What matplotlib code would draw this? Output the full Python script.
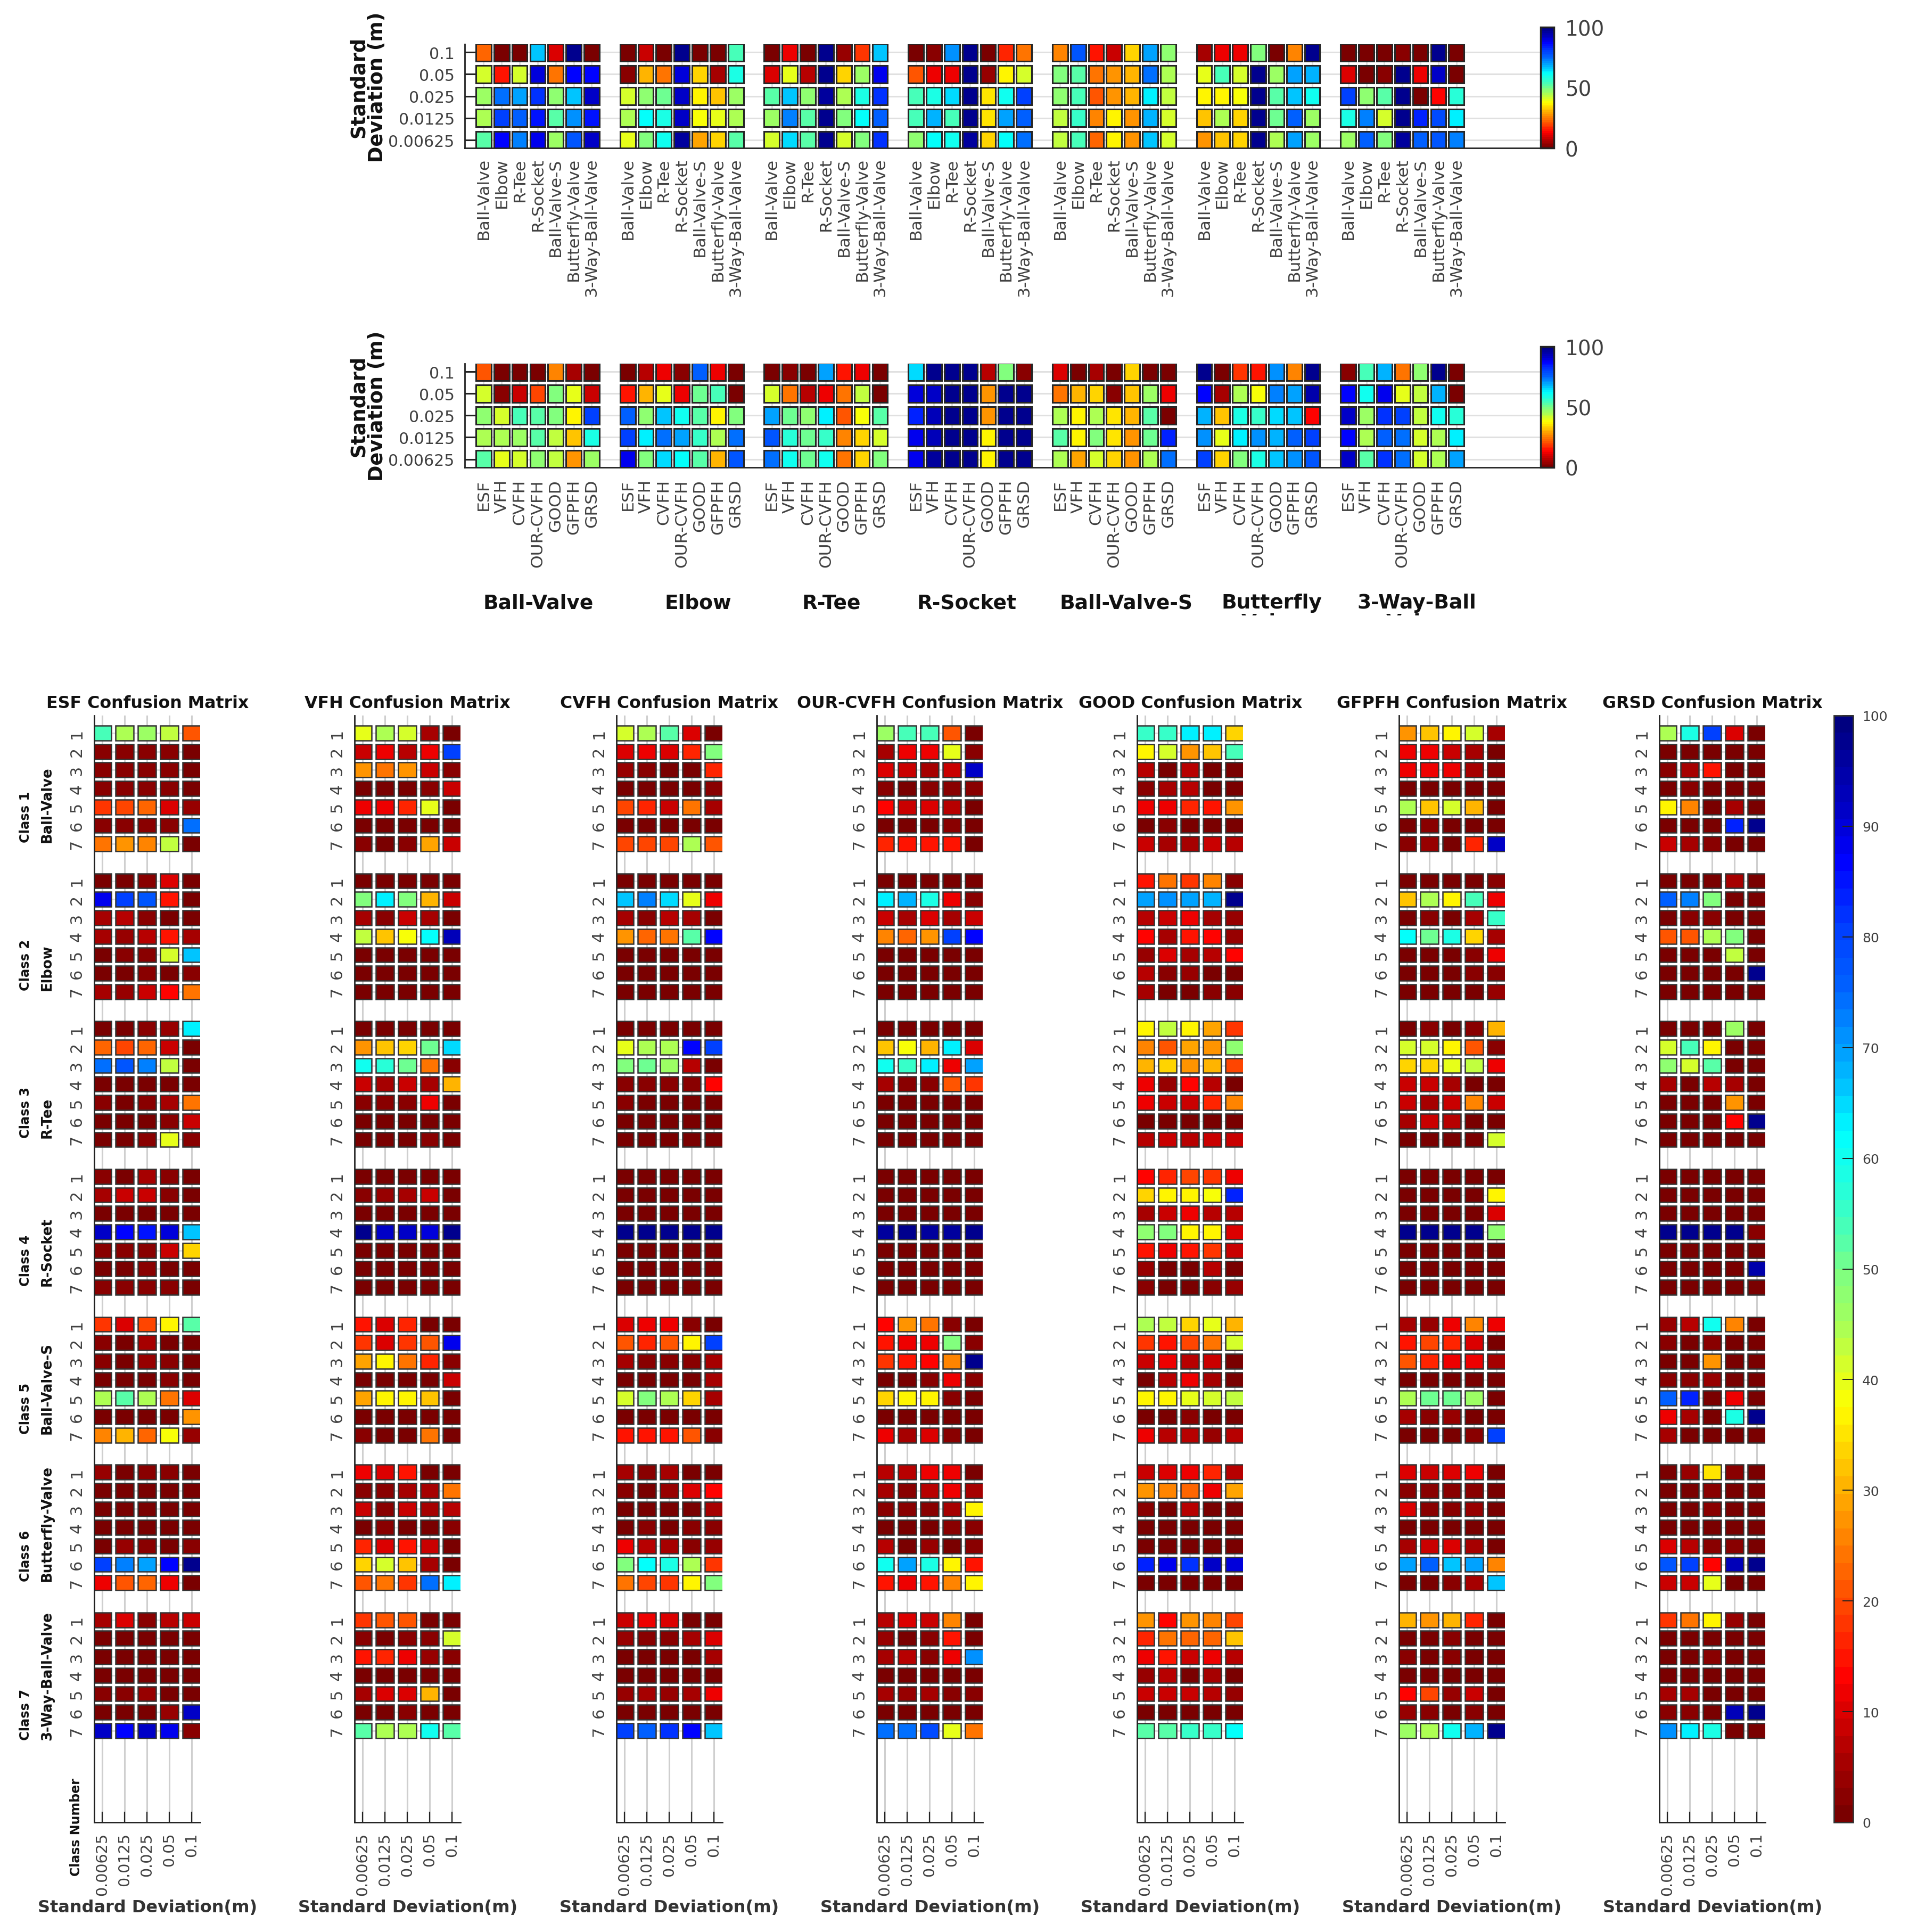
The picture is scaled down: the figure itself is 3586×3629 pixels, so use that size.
import numpy as np
import matplotlib
matplotlib.use("Agg")
import matplotlib.pyplot as plt
from matplotlib.cm import ScalarMappable
from matplotlib.colors import Normalize, LinearSegmentedColormap
from matplotlib.transforms import Bbox

W, H = 3586, 3630

std_top = ["0.1", "0.05", "0.025", "0.0125", "0.00625"]
std_bottom = ["0.00625", "0.0125", "0.025", "0.05", "0.1"]
class_names = ["Ball-Valve", "Elbow", "R-Tee", "R-Socket", "Ball-Valve-S", "Butterfly-Valve", "3-Way-Ball-Valve"]
descriptors = ["ESF", "VFH", "CVFH", "OUR-CVFH", "GOOD", "GFPFH", "GRSD"]
group_titles = ["Ball-Valve", "Elbow", "R-Tee", "R-Socket", "Ball-Valve-S", "Butterfly", "3-Way-Ball"]

# top panel, rows are std 0.1 -> 0.00625, 7 values per group
by_class = [
    # Ball-Valve
    [22,1,1,66,10,97,1, 42,15,41,90,24,86,87, 46,74,70,82,47,67,92, 44,80,76,85,53,71,85, 53,87,73,88,46,78,91],
    # Elbow
    [1,8,1,97,1,1,54, 3,31,24,90,33,5,58, 41,48,51,92,36,32,46, 45,62,58,92,38,40,45, 40,49,60,96,29,34,52],
    # R-Tee
    [1,12,1,97,4,18,67, 10,40,7,97,34,46,88, 53,66,48,96,44,58,82, 46,73,52,97,49,62,76, 41,65,52,97,42,49,82],
    # R-Socket
    [1,2,71,97,1,16,24, 21,12,12,97,4,37,41, 54,59,65,97,35,60,80, 54,68,54,97,35,70,76, 47,62,60,96,34,62,74],
    # Ball-Valve-S
    [25,77,15,8,34,70,47, 49,53,24,27,31,74,44, 48,54,21,28,30,64,43, 43,55,25,37,27,68,41, 43,54,23,37,27,66,41],
    # Butterfly
    [5,12,12,49,1,25,98, 40,54,42,98,46,70,68, 37,37,39,97,52,67,60, 32,44,34,97,51,75,46, 28,32,34,97,44,70,46],
    # 3-Way
    [1,1,1,2,1,97,1, 10,1,2,97,12,92,1, 80,48,52,97,1,14,57, 59,73,41,97,83,79,63, 46,76,49,96,75,77,72],
]

# second panel, same layout but columns are the descriptors
by_descriptor = [
    [21,1,1,1,25,5,1, 42,3,8,20,49,40,8, 47,42,54,53,49,37,80, 45,45,46,53,43,32,58, 52,40,42,48,43,27,46],
    [1,7,12,2,76,12,1, 15,31,40,12,51,54,1, 76,48,66,60,53,37,49, 81,63,74,69,55,44,74, 88,49,65,62,53,31,78],
    [1,2,1,70,15,12,1, 41,24,7,12,24,43,1, 70,50,47,64,21,39,53, 77,57,51,56,25,34,41, 74,60,51,60,24,34,49],
    [65,97,97,97,7,49,2, 90,92,97,97,28,97,97, 83,93,97,97,28,97,97, 88,93,97,97,37,97,97, 88,96,97,97,37,97,97],
    [10,1,5,1,34,1,1, 24,31,34,3,32,46,12, 45,36,44,35,30,52,1, 53,37,49,35,28,51,83, 45,29,41,33,28,44,74],
    [97,1,18,15,71,25,97, 87,5,45,38,73,70,94, 68,32,58,56,65,66,13, 71,40,63,71,68,76,80, 80,34,49,59,66,71,77],
    [3,54,68,24,47,97,1, 87,60,88,40,43,68,1, 92,46,82,80,43,60,57, 86,45,76,74,41,45,63, 92,53,82,74,41,45,70],
]

# confusion matrices, one row per predicted class, 7 rows per true class
esf = [
    [54,45,46,43,21],[3,3,2,2,1],[2,3,2,2,1],[2,2,2,2,1],[18,20,22,10,4],[2,2,2,3,74],[24,28,26,43,1],
    [1,1,2,10,1],[88,81,77,15,1],[5,7,3,1,1],[5,4,7,15,5],[1,3,3,41,67],[1,1,2,1,2],[5,4,8,13,24],
    [1,1,2,4,63],[22,19,22,8,1],[74,78,72,43,1],[1,1,1,1,1],[3,1,3,5,24],[1,1,1,2,8],[1,1,3,40,3],
    [3,1,5,3,1],[5,8,8,2,1],[1,1,1,1,1],[91,87,85,90,67],[2,3,2,8,33],[1,1,3,1,1],[3,3,2,2,1],
    [18,10,20,36,53],[3,1,5,1,1],[3,1,4,3,1],[1,1,1,2,1],[45,53,45,24,10],[1,1,1,1,28],[25,31,23,38,4],
    [4,1,3,2,1],[1,1,1,1,1],[1,1,1,1,1],[1,1,1,1,1],[1,4,3,1,3],[80,73,70,86,98],[11,21,23,11,1],
    [6,10,3,7,8],[1,1,1,1,1],[1,1,1,1,1],[1,1,1,1,1],[2,2,4,1,1],[1,1,1,4,91],[92,87,92,88,2],
]
vfh = [
    [40,45,42,5,1],[9,12,7,12,80],[28,24,28,8,3],[1,1,1,2,8],[12,12,16,40,1],[1,1,1,1,1],[3,1,3,29,8],
    [1,1,1,1,1],[49,63,49,31,8],[5,3,8,5,1],[43,32,38,62,93],[1,1,1,1,1],[1,1,1,1,1],[1,1,1,1,1],
    [1,1,1,1,1],[27,32,34,50,65],[60,57,50,24,2],[8,6,8,5,30],[2,2,2,12,1],[1,1,1,1,1],[1,1,1,2,1],
    [1,1,1,1,1],[2,4,5,8,1],[1,1,1,1,1],[97,92,92,90,98],[1,1,1,1,1],[1,1,1,1,1],[1,1,1,1,1],
    [15,10,17,1,1],[18,10,18,21,88],[29,36,24,16,2],[1,1,1,1,8],[29,37,36,32,1],[1,1,1,1,1],[3,1,1,24,1],
    [12,10,15,1,1],[2,2,5,5,24],[8,2,8,5,7],[1,3,1,1,2],[17,10,15,9,1],[34,41,32,5,1],[21,24,18,74,64],
    [18,21,21,1,1],[2,1,2,2,41],[15,17,12,4,3],[1,1,1,1,1],[6,10,10,31,1],[1,1,2,1,1],[52,44,45,60,53],
]
cvfh = [
    [42,45,53,10,1],[10,12,10,16,49],[4,2,1,1,16],[1,1,1,1,3],[19,17,9,24,5],[1,1,1,1,1],[19,19,19,45,21],
    [1,1,1,1,1],[66,73,65,40,12],[5,2,7,5,1],[27,23,24,53,87],[1,1,1,1,1],[1,1,1,1,1],[1,1,1,1,1],
    [1,1,1,1,1],[40,45,45,87,81],[49,50,46,7,1],[2,2,3,2,14],[2,1,1,1,1],[1,1,1,1,1],[1,1,1,1,1],
    [1,1,1,1,1],[1,1,1,1,1],[1,1,1,1,1],[97,97,97,97,97],[1,1,1,1,1],[1,1,1,1,1],[1,1,1,1,1],
    [10,11,11,2,1],[21,17,21,36,80],[5,2,2,2,6],[1,1,1,1,5],[41,49,44,34,5],[1,1,1,1,1],[15,15,15,21,2],
    [5,3,6,1,1],[2,1,4,10,14],[1,1,1,1,6],[1,2,1,2,2],[12,7,6,2,4],[49,62,58,45,18],[24,20,18,36,49],
    [8,12,10,1,1],[4,3,2,5,10],[1,1,1,1,5],[1,1,1,1,1],[4,5,4,5,12],[1,1,1,1,1],[80,76,82,87,67],
]
our_cvfh = [
    [46,54,54,21,1],[6,11,11,40,3],[10,8,5,8,92],[2,1,2,3,3],[14,8,10,7,1],[1,1,1,3,1],[17,15,15,15,1],
    [1,1,1,1,1],[63,68,59,12,2],[8,5,10,5,8],[25,23,28,80,87],[1,1,1,1,1],[1,1,1,1,1],[1,1,1,1,1],
    [1,1,1,1,1],[32,39,30,63,10],[60,55,64,12,70],[5,3,3,21,18],[1,1,1,1,1],[1,1,1,1,1],[1,1,1,1,1],
    [1,1,1,1,1],[1,1,1,1,1],[1,1,1,1,1],[96,97,96,96,97],[1,1,1,1,1],[1,1,1,1,1],[1,1,1,1,1],
    [14,27,24,2,1],[15,11,12,49,2],[18,15,13,25,97],[1,1,2,12,2],[34,36,36,3,1],[1,1,1,1,1],[12,5,10,2,1],
    [7,7,11,12,1],[6,2,7,11,5],[3,2,2,6,37],[1,1,1,2,2],[7,1,4,1,2],[60,70,58,37,15],[15,12,15,25,36],
    [7,10,8,25,1],[4,1,3,15,1],[6,7,3,12,71],[1,1,1,1,1],[6,4,5,2,2],[1,1,1,1,1],[74,74,79,40,24],
]
good = [
    [56,56,63,63,33],[36,41,28,32,54],[7,1,7,1,1],[3,5,7,1,1],[11,12,17,15,28],[1,2,1,1,1],[8,6,5,8,7],
    [15,24,18,25,2],[70,71,70,68,97],[7,8,11,5,4],[14,5,15,14,4],[4,10,5,7,14],[7,2,4,1,1],[6,1,1,3,3],
    [36,43,36,29,18],[25,21,29,28,48],[31,34,27,30,20],[12,4,14,7,1],[12,8,8,17,25],[1,1,1,1,1],[7,9,7,9,9],
    [14,17,20,18,11],[34,36,36,38,83],[5,8,11,7,7],[48,49,37,36,10],[15,12,15,18,9],[4,1,1,7,1],[3,1,1,2,4],
    [45,43,34,40,31],[18,15,20,24,42],[8,11,7,9,1],[1,7,11,5,1],[37,37,40,42,43],[1,1,2,1,1],[11,7,7,4,7],
    [9,10,12,16,7],[28,25,23,12,29],[2,1,7,1,1],[1,1,1,1,1],[1,1,1,1,1],[83,88,82,92,90],[1,1,1,1,1],
    [28,14,28,25,19],[17,24,22,22,32],[12,15,9,11,7],[4,7,1,5,1],[9,9,8,7,4],[1,1,1,1,1],[53,53,55,55,62],
]
gfpfh = [
    [28,32,37,41,5],[11,11,8,5,1],[11,12,11,5,2],[1,1,1,1,1],[44,32,41,30,1],[1,2,1,1,1],[3,4,1,17,91],
    [1,1,1,1,2],[32,44,36,54,12],[1,2,1,5,56],[62,51,59,34,5],[1,1,1,3,12],[1,1,1,2,2],[1,1,1,1,4],
    [1,2,1,2,30],[41,41,37,21,2],[34,34,40,43,11],[8,8,5,1,1],[8,5,8,25,8],[5,8,7,1,1],[1,1,1,1,41],
    [1,1,1,1,1],[1,1,1,1,37],[1,1,1,1,10],[97,97,97,97,48],[1,1,1,1,1],[1,1,1,1,1],[1,1,1,1,1],
    [5,4,12,26,12],[15,20,16,10,1],[21,17,12,11,6],[1,1,1,1,1],[44,51,51,46,1],[6,2,4,1,1],[1,1,1,2,81],
    [10,8,10,11,1],[2,2,2,2,1],[10,2,3,4,1],[1,1,1,1,1],[5,8,10,5,1],[70,75,67,70,25],[1,1,2,5,67],
    [30,28,30,17,1],[1,1,2,1,1],[2,1,2,1,1],[1,1,1,1,1],[14,19,4,8,1],[4,2,1,2,1],[46,45,60,68,97],
]
grsd = [
    [45,58,80,10,1],[1,1,1,1,1],[3,5,15,1,1],[1,2,1,1,1],[37,25,1,5,1],[1,1,1,83,97],[8,5,3,1,1],
    [1,1,1,5,1],[76,73,49,1,1],[1,2,3,1,1],[21,21,45,49,1],[1,1,1,43,1],[1,1,1,1,97],[1,1,1,1,1],
    [1,1,1,46,1],[42,54,37,1,1],[48,41,52,1,1],[5,1,7,5,1],[1,1,1,28,1],[1,1,1,14,97],[1,1,1,1,1],
    [1,1,1,1,1],[1,1,1,1,1],[1,1,1,1,1],[97,97,97,97,3],[1,1,1,1,1],[1,1,1,1,94],[1,1,1,1,1],
    [4,7,60,26,1],[3,1,3,1,1],[1,1,28,1,1],[3,3,4,1,1],[75,83,1,12,1],[11,5,1,58,97],[5,1,1,1,1],
    [1,4,35,3,1],[1,1,2,1,1],[1,1,2,1,1],[1,1,1,1,1],[10,7,2,2,1],[77,80,14,93,98],[9,8,40,1,1],
    [18,24,37,4,1],[1,1,1,1,1],[1,1,3,1,1],[1,1,1,1,1],[6,5,1,1,1],[2,2,1,93,97],[71,63,58,1,1],
]
matrices = [esf, vfh, cvfh, our_cvfh, good, gfpfh, grsd]

DARK = "#404040"
EDGE = "#262626"

# jet running backwards
cmap_stops = [0, 5, 10, 12.5, 18.5, 25, 29, 37.5, 41, 45.5, 49.5, 53, 58, 62.5, 67, 70, 76, 81, 87.5, 92, 100]
cmap_colors = ["#7a0000", "#a80000", "#e00000", "#ff0000", "#ff4000", "#ff8000", "#ffa800", "#ffff00", "#d8ff28",
               "#a0ff60", "#80ff80", "#50ffb0", "#20ffe0", "#00ffff", "#00c0ff", "#00a0ff", "#0060ff", "#0040ff",
               "#0000ff", "#0000c8", "#000080"]
cmap = LinearSegmentedColormap.from_list("jet_ref", [(s / 100, c) for s, c in zip(cmap_stops, cmap_colors)], N=64)
norm = Normalize(0, 100)
sm = ScalarMappable(norm=norm, cmap=cmap)

fig = plt.figure(figsize=(W / 100, H / 100), dpi=100)


def axes_px(left, top, right, bottom):
    return fig.add_axes([left / W, 1 - bottom / H, (right - left) / W, (bottom - top) / H])


def text_px(x, y, s, **kw):
    return fig.text(x / W, 1 - y / H, s, **kw)


def style_axes(ax, xgrid, ygrid):
    for side in ["top", "right"]:
        ax.spines[side].set_visible(False)
    for side in ["left", "bottom"]:
        ax.spines[side].set_linewidth(2)
        ax.spines[side].set_color("#222222")
    ax.set_axisbelow(True)
    ax.grid(True, axis="x", color=xgrid, linewidth=2.2)
    ax.grid(True, axis="y", color=ygrid, linewidth=2.2)


def colorbar_small(left, top, right, bottom):
    cax = axes_px(left, top, right, bottom)
    cb = fig.colorbar(sm, cax=cax)
    cb.set_ticks([0, 50, 100])
    cb.ax.tick_params(length=0, labelsize=28, labelcolor=DARK, pad=15)
    cb.outline.set_linewidth(2.5)
    cb.outline.set_edgecolor("#222222")


def panel(values, labels, top, bottom, cb_top, pad):
    ax = axes_px(872.6, top, 2893.8, bottom)
    style_axes(ax, "#e0e0e0", "#e0e0e0")
    slots = []
    xlabels = []
    xs, ys, vals = [], [], []
    for g, group in enumerate(values):
        group = np.array(group).reshape(5, 7)
        for c in range(7):
            slots.append(8 * g + c + 1)
            xlabels.append(labels[c])
            for r in range(5):
                xs.append(8 * g + c + 1)
                ys.append(r + 1)
                vals.append(group[r, c])
    ax.bar(xs, 0.8, bottom=np.array(ys) - 0.4, width=0.85, color=sm.to_rgba(vals),
           edgecolor=EDGE, linewidth=2.2, zorder=1)
    ax.set_xlim(-0.058, 59.67)
    ax.set_ylim(5.37, 0.62)
    ax.set_yticks(range(1, 6))
    ax.set_yticklabels(std_top)
    ax.set_xticks(slots)
    ax.set_xticklabels(xlabels, rotation=90)
    ax.tick_params(axis="y", direction="in", length=15, width=2.2, color="#222222",
                   labelsize=21.6, labelcolor=DARK, pad=13.5)
    ax.tick_params(axis="x", direction="in", length=0, labelsize=22.6, labelcolor=DARK, pad=pad)
    colorbar_small(2893.8, cb_top, 2918.8, bottom)
    text_px(691, (top + bottom) / 2 - 18, "Standard\nDeviation (m)", rotation=90, ha="center", va="center",
            fontsize=26.4, fontweight="bold", color="#111111", linespacing=0.95, multialignment="center")


panel(by_class, class_names, 83.6, 279.3, 52, 13)
panel(by_descriptor, descriptors, 683.8, 878.7, 652, 16)

# group names under second panel
title_x = [1011, 1311, 1562, 1816, 2116, 2389, 2661]
for x, name in zip(title_x, group_titles):
    text_px(x, 1143, name, ha="center", va="baseline", fontsize=27, fontweight="bold", color="#111111")
# second lines run off the picture of the original figure, only their tops show
clip = Bbox.from_extents(0, H - 1157, W, H - 1147)
for x, name in [(2389, "Valve"), (2661, "Valve")]:
    t = text_px(x, 1180, name, ha="center", va="baseline", fontsize=27, fontweight="bold", color="#111111")
    t.set_clip_on(True)
    t.set_clip_box(clip)

# confusion matrices
matrix_left = [176.7, 665.8, 1157.5, 1646.7, 2135.8, 2627.5, 3116.7]
row_ticks = [8 * k + r + 1 for k in range(7) for r in range(7)]
row_labels = [str(r + 1) for k in range(7) for r in range(7)]
for left, name, mat in zip(matrix_left, descriptors, matrices):
    ax = axes_px(left, 1345, left + 199.5, 3424)
    style_axes(ax, "#cfcfcf", "#e0e0e0")
    mat = np.array(mat)
    for i, y in enumerate(row_ticks):
        ax.bar(np.arange(1, 6), 0.8, bottom=y - 0.4, width=0.8, color=sm.to_rgba(mat[i]),
               edgecolor="#333333", linewidth=1.8, zorder=1)
    ax.set_xlim(0.636, 5.38)
    ax.set_ylim(59.96, 0.05)
    ax.set_xticks(range(1, 6))
    ax.set_xticklabels(std_bottom, rotation=90)
    ax.set_yticks(row_ticks)
    ax.set_yticklabels(row_labels, rotation=90, va="center")
    ax.tick_params(axis="x", direction="in", length=14.4, width=1.6, color="#222222",
                   labelsize=20.5, labelcolor=DARK, pad=13.5)
    ax.tick_params(axis="y", direction="in", length=0, labelsize=21.6, labelcolor=DARK, pad=13)
    text_px(left + 100, 1321, name + " Confusion Matrix", ha="center", va="center",
            fontsize=22.8, fontweight="bold", color="#111111")
    text_px(left + 100, 3584, "Standard Deviation(m)", ha="center", va="center",
            fontsize=23, fontweight="bold", color="#333333")

# class captions left of the first matrix
for k, name in enumerate(class_names):
    y = 1378 + 34.7 * (8 * k + 6) - 3
    if k == 6:
        y += 20
    text_px(48, y, "Class %d" % (k + 1), rotation=90, ha="center", va="bottom",
            fontsize=17.4, fontweight="bold", color="#111111")
    text_px(89, y, name, rotation=90, ha="center", va="bottom",
            fontsize=18.6, fontweight="bold", color="#111111")
text_px(143.5, 3432, "Class Number", rotation=90, ha="center", va="center",
        fontsize=17, fontweight="bold", color="#111111")

cax = axes_px(3445, 1345, 3481.4, 3424)
cb = fig.colorbar(sm, cax=cax)
cb.set_ticks(range(0, 101, 10))
cb.ax.tick_params(direction="in", length=14.4, width=1.4, color="#222222",
                  labelsize=18, labelcolor=DARK, pad=12)
cb.outline.set_linewidth(2)
cb.outline.set_edgecolor("#333333")

fig.savefig("out.png", dpi=100)
